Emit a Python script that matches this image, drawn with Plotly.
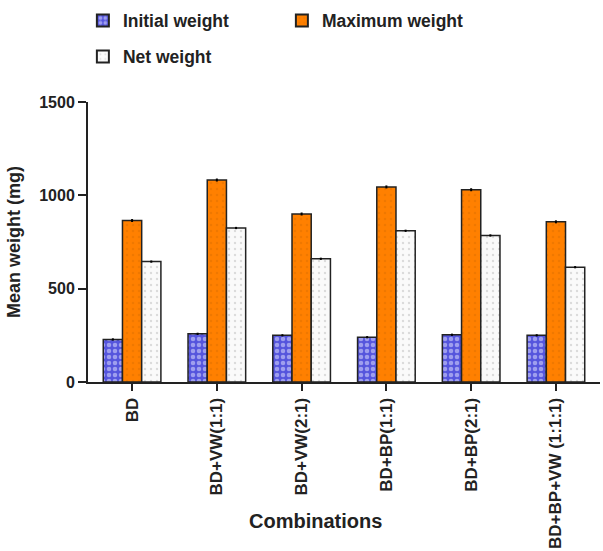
import plotly.graph_objects as go

# Mean weights (mg) per substrate combination
combinations = ["BD", "BD+VW(1:1)", "BD+VW(2:1)", "BD+BP(1:1)", "BD+BP(2:1)", "BD+BP+VW (1:1:1)"]
initial_weight = [228, 258, 250, 240, 253, 250]
maximum_weight = [865, 1082, 900, 1045, 1030, 858]
net_weight = [645, 825, 660, 810, 785, 615]
error_initial = [6, 6, 6, 6, 6, 6]
error_maximum = [8, 8, 8, 8, 8, 8]
error_net = [6, 6, 6, 6, 6, 6]
y_ticks = [0, 500, 1000, 1500]

FONT = "Liberation Sans, Arial, sans-serif"
INK = "#222222"

fig = go.Figure()

fig.add_trace(go.Bar(
    name="Initial weight", x=combinations, y=initial_weight,
    error_y=dict(type="data", array=error_initial, visible=True, color="black", thickness=2, width=0),
    marker=dict(color="#6b6be6", line=dict(color=INK, width=1.5),
                pattern=dict(shape=".", fgcolor="#e8e8ff", bgcolor="#5555dd", size=6, solidity=0.45)),
    legend="legend",
))
fig.add_trace(go.Bar(
    name="Maximum weight", x=combinations, y=maximum_weight,
    error_y=dict(type="data", array=error_maximum, visible=True, color="black", thickness=2, width=0),
    marker=dict(color="#ff8000", line=dict(color=INK, width=1.5),
                pattern=dict(shape=".", fgcolor="#e07000", bgcolor="#ff8000", size=6, solidity=0.15)),
    legend="legend",
))
fig.add_trace(go.Bar(
    name="Net weight", x=combinations, y=net_weight,
    error_y=dict(type="data", array=error_net, visible=True, color="black", thickness=2, width=0),
    marker=dict(color="#fafafa", line=dict(color=INK, width=1.5),
                pattern=dict(shape=".", fgcolor="#bbbbbb", bgcolor="#fafafa", size=6, solidity=0.12)),
    legend="legend2",
))

legend_style = dict(
    orientation="h", xanchor="left", yanchor="top",
    font=dict(family=FONT, size=17.5, color=INK, weight="bold"),
    bgcolor="rgba(0,0,0,0)", entrywidth=154, itemsizing="constant",
)

fig.update_layout(
    width=603, height=551,
    margin=dict(l=88, r=3, t=100, b=169),
    paper_bgcolor="white", plot_bgcolor="white",
    barmode="group", bargap=0.32, bargroupgap=0,
    font=dict(family=FONT, color=INK),
    legend=dict(x=-0.01, y=1.355, **legend_style),
    legend2=dict(x=-0.01, y=1.226, **legend_style),
    xaxis=dict(
        range=[-0.52, 5.52],
        showline=True, linecolor=INK, linewidth=2,
        ticks="outside", ticklen=7, tickwidth=2, tickcolor=INK,
        tickangle=-90,
        tickfont=dict(family=FONT, size=17, color=INK, weight="bold"),
    ),
    yaxis=dict(
        range=[0, 1500], tickvals=y_ticks,
        showline=True, linecolor=INK, linewidth=2,
        ticks="outside", ticklen=8, tickwidth=2, tickcolor=INK,
        showgrid=False, zeroline=False,
        tickfont=dict(family=FONT, size=16, color=INK, weight="bold"),
        title=dict(text="Mean weight (mg)", font=dict(family=FONT, size=18, color=INK, weight="bold"), standoff=14),
    ),
    annotations=[dict(
        text="Combinations", xref="paper", yref="paper",
        x=0.445, y=-0.496, xanchor="center", yanchor="middle", showarrow=False,
        font=dict(family=FONT, size=20, color=INK, weight="bold"),
    )],
)

fig.write_html("out.html")
